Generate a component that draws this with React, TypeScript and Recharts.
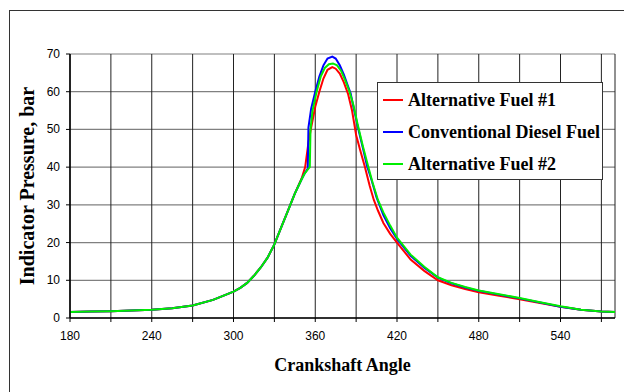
import React from 'react';
import { LineChart, Line, XAxis, YAxis, CartesianGrid, Legend } from 'recharts';

// Crank angle (deg) / pressure (bar) samples
const fuel1Angles = [180, 195, 210, 225, 240, 255, 270, 285, 300, 305, 310, 315, 320, 325, 330, 335, 340, 345, 350, 352.6, 355, 357, 360, 363, 366, 369, 372.5, 375, 378, 381, 384, 387, 390, 393, 396.5, 400, 403, 406, 410, 415, 420, 430, 440, 450, 460, 470, 480, 495, 510, 525, 540, 555, 570, 580];
const fuel1Values = [1.6, 1.7, 1.8, 2.0, 2.2, 2.6, 3.3, 4.8, 7.0, 8.0, 9.3, 11.2, 13.4, 16.0, 19.5, 24.0, 28.5, 33.0, 37.0, 40.0, 46.5, 50.5, 56.0, 60.0, 63.5, 65.8, 66.5, 66.1, 64.8, 62.5, 59.5, 55.0, 48.5, 44.5, 40.0, 35.0, 31.3, 28.5, 25.2, 22.3, 20.0, 15.5, 12.5, 10.0, 8.7, 7.7, 6.8, 5.9, 5.0, 4.0, 3.0, 2.2, 1.7, 1.6];

const dieselAngles = [180, 195, 210, 225, 240, 255, 270, 285, 300, 305, 310, 315, 320, 325, 330, 335, 340, 345, 350, 352, 354.5, 355, 357, 360, 363, 366, 369, 372.5, 375, 378, 381, 384, 386, 388, 390, 392, 395, 398, 401, 405, 410, 415, 420, 430, 440, 450, 460, 470, 480, 495, 510, 525, 540, 555, 570, 580];
const dieselValues = [1.6, 1.7, 1.8, 2.0, 2.2, 2.6, 3.3, 4.8, 7.0, 8.0, 9.3, 11.2, 13.4, 16.0, 19.5, 24.0, 28.5, 33.0, 36.8, 38.2, 39.6, 50.5, 55.5, 60.0, 64.0, 67.0, 68.8, 69.3, 68.8, 67.0, 64.5, 61.5, 59.5, 56.0, 52.8, 49.5, 45.0, 40.3, 37.0, 32.0, 27.3, 23.8, 21.0, 16.5, 13.3, 10.7, 9.2, 8.1, 7.2, 6.2, 5.2, 4.1, 3.0, 2.2, 1.7, 1.6];

const fuel2Angles = [180, 195, 210, 225, 240, 255, 270, 285, 300, 305, 310, 315, 320, 325, 330, 335, 340, 345, 350, 352, 355, 356, 356.5, 358, 361, 364, 367, 370, 373, 376, 379, 382, 385, 388, 391, 395, 399, 402, 406, 410, 415, 420, 430, 440, 450, 460, 470, 480, 495, 510, 525, 540, 555, 570, 580];
const fuel2Values = [1.6, 1.7, 1.8, 2.0, 2.2, 2.6, 3.3, 4.8, 7.0, 8.0, 9.3, 11.2, 13.4, 16.0, 19.5, 24.0, 28.5, 33.0, 36.8, 38.2, 39.6, 40.0, 50.0, 55.0, 60.0, 64.0, 66.3, 67.3, 67.5, 67.0, 65.5, 63.0, 60.2, 56.5, 51.5, 45.5, 40.0, 36.0, 31.3, 28.0, 24.5, 21.3, 16.8, 13.6, 10.8, 9.3, 8.2, 7.3, 6.3, 5.3, 4.2, 3.1, 2.2, 1.7, 1.6];

const seriesNames = ['Alternative Fuel #1', 'Conventional Diesel Fuel', 'Alternative Fuel #2'];
const seriesColors = ['#ff0000', '#0000ff', '#00ee00'];

const xTicks = [180, 210, 240, 270, 300, 330, 360, 390, 420, 450, 480, 510, 540, 570];
const xTickLabels = ['180', '', '240', '', '300', '', '360', '', '420', '', '480', '', '540', ''];
const yTicks = [0, 10, 20, 30, 40, 50, 60, 70];

const toRows = (xs: number[], ys: number[]) => xs.map((x, i) => ({ angle: x, p: ys[i] }));
const fuel1Data = toRows(fuel1Angles, fuel1Values);
const dieselData = toRows(dieselAngles, dieselValues);
const fuel2Data = toRows(fuel2Angles, fuel2Values);

const serif = '"Liberation Serif", "Times New Roman", serif';
const sans = '"Liberation Sans", Arial, sans-serif';

const LegendBox = (props: any) => {
  const payload = [...(props.payload || [])].sort(
    (a: any, b: any) => seriesNames.indexOf(a.value) - seriesNames.indexOf(b.value)
  );
  return (
    <div
      style={{
        border: '1.5px solid #333',
        background: '#fff',
        width: 226,
        height: 98,
        boxSizing: 'border-box',
        padding: '1px 0 0 5px',
      }}
    >
      {payload.map((p: any, i: number) => (
        <div key={i} style={{ display: 'flex', alignItems: 'center', height: 32 }}>
          <div style={{ width: 20, height: 2, background: p.color, marginRight: 5 }} />
          <span style={{ fontFamily: serif, fontWeight: 'bold', fontSize: 18, color: '#000', whiteSpace: 'nowrap' }}>
            {p.value}
          </span>
        </div>
      ))}
    </div>
  );
};

const XTick = (props: any) => {
  const { x, y, payload } = props;
  const label = xTickLabels[xTicks.indexOf(payload.value)] ?? '';
  return (
    <text x={x} y={y + 16} textAnchor="middle" fontFamily={sans} fontSize={12} fill="#000">
      {label}
    </text>
  );
};

const YTick = (props: any) => {
  const { x, y, payload } = props;
  return (
    <text x={x - 4} y={y + 4} textAnchor="end" fontFamily={sans} fontSize={12} fill="#000">
      {payload.value}
    </text>
  );
};

export default function App() {
  return (
    <div style={{ position: 'absolute', left: 0, top: 0, width: 624, height: 392, overflow: 'hidden', background: '#fff' }}>
      <div
        style={{
          position: 'absolute',
          left: 9,
          top: 10,
          width: 640,
          height: 400,
          border: '1.5px solid #333',
          boxSizing: 'border-box',
        }}
      />
      <div style={{ position: 'absolute', left: 0, top: 0 }}>
        <LineChart width={624} height={392} margin={{ top: 54, right: 9, bottom: 0, left: 0 }}>
          <CartesianGrid vertical={false} stroke="#808080" strokeWidth={1.2} />
          <CartesianGrid horizontal={false} stroke="#222" strokeWidth={1} />
          <XAxis
            type="number"
            dataKey="angle"
            domain={[180, 580]}
            ticks={xTicks}
            allowDataOverflow
            height={74}
            axisLine={{ stroke: '#000', strokeWidth: 1.5 }}
            tickLine={{ stroke: '#000' }}
            tickSize={4}
            tick={<XTick />}
            label={(props: any) => {
              const vb = props.viewBox;
              return (
                <text
                  x={vb.x + vb.width / 2}
                  y={vb.y + 53}
                  textAnchor="middle"
                  fontFamily={serif}
                  fontWeight="bold"
                  fontSize={18}
                  fill="#000"
                >
                  Crankshaft Angle
                </text>
              );
            }}
          />
          <YAxis
            type="number"
            domain={[0, 70]}
            ticks={yTicks}
            width={70}
            axisLine={{ stroke: '#000', strokeWidth: 1.5 }}
            tickLine={{ stroke: '#000' }}
            tickSize={4}
            tick={<YTick />}
            label={(props: any) => {
              const vb = props.viewBox;
              const cy = vb.y + vb.height / 2;
              return (
                <text
                  x={27}
                  y={cy}
                  transform={`rotate(-90, 27, ${cy})`}
                  textAnchor="middle"
                  dominantBaseline="central"
                  fontFamily={serif}
                  fontWeight="bold"
                  fontSize={20}
                  fill="#000"
                >
                  Indicator Pressure, bar
                </text>
              );
            }}
          />
          <Legend
            layout="vertical"
            verticalAlign="middle"
            align="center"
            content={<LegendBox />}
            wrapperStyle={{ position: 'absolute', left: 377, top: 82, width: 226 }}
          />
          <Line data={fuel1Data} dataKey="p" name={seriesNames[0]} stroke={seriesColors[0]} strokeWidth={2} dot={false} isAnimationActive={false} type="linear" />
          <Line data={dieselData} dataKey="p" name={seriesNames[1]} stroke={seriesColors[1]} strokeWidth={2} dot={false} isAnimationActive={false} type="linear" />
          <Line data={fuel2Data} dataKey="p" name={seriesNames[2]} stroke={seriesColors[2]} strokeWidth={2} dot={false} isAnimationActive={false} type="linear" />
        </LineChart>
      </div>
    </div>
  );
}
